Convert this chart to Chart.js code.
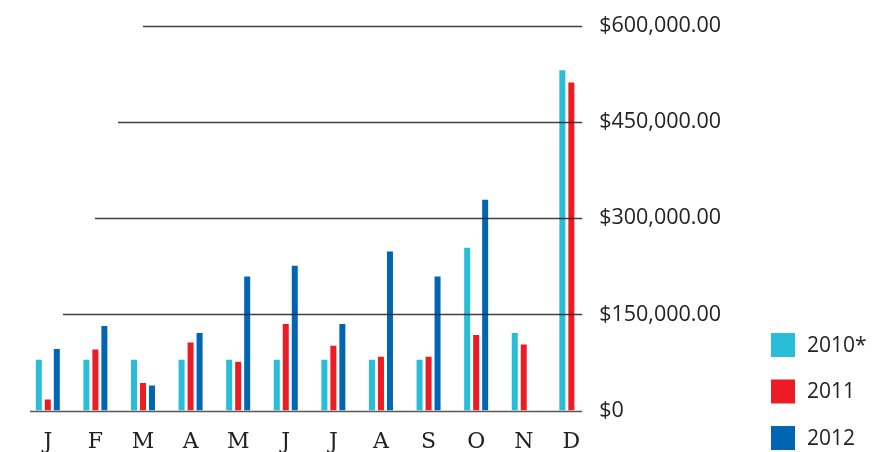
<title>Monthly totals 2010-2012</title>
<script src=https://cdn.jsdelivr.net/npm/chart.js@4/dist/chart.umd.min.js></script>
<style>body{margin:0;background:#fff}</style>
<canvas id="myChart" width="886" height="452"></canvas>
<script>
var months = ['J','F','M','A','M','J','J','A','S','O','N','D'];
var series = ['2010*','2011','2012'];
var v2010 = [79000,79000,79000,79000,79000,79000,79000,79000,79000,254000,121000,531000];
var v2011 = [17000,95000,43000,106000,76000,135000,101000,84000,84000,118000,103000,512000];
var v2012 = [96000,132000,39000,121000,209000,226000,135000,248000,209000,329000,null,null];
var yTicks = [0,150000,300000,450000,600000];
var yTickLabels = ['$0','$150,000.00','$300,000.00','$450,000.00','$600,000.00'];
var colors = ['#28bdd9','#ed1c24','#0066b3'];

// staggered rules drawn over the bars
var rules = {
  id:'rules',
  afterDatasetsDraw:function(chart){
    var c = chart.ctx, y = chart.scales.y, a = chart.chartArea;
    var starts = [30,63,95,118,143];
    c.save();
    for(var i=0;i<yTicks.length;i++){
      var py = Math.round(y.getPixelForValue(yTicks[i]))+0.5;
      c.strokeStyle = i==0 ? 'rgba(60,60,60,0.85)' : 'rgba(30,30,30,0.85)';
      c.lineWidth = 1.4;
      c.beginPath(); c.moveTo(starts[i],py); c.lineTo(a.right-13,py); c.stroke();
    }
    c.restore();
  }
};

var legendBoxes = {
  id:'legendBoxes',
  afterDraw:function(chart){
    var c = chart.ctx, ds = chart.data.datasets;
    var x = chart.width-115, step = 46.5;
    c.save();
    c.font = '21px "Open Sans"';
    c.textBaseline = 'middle';
    for(var i=0;i<ds.length;i++){
      var top = chart.height-26-(ds.length-1-i)*step;
      c.fillStyle = ds[i].backgroundColor;
      c.fillRect(x,top,24,24);
      c.fillStyle = '#222';
      c.fillText(ds[i].label,x+36,top+13);
    }
    c.restore();
  }
};

var ctx = document.getElementById('myChart');
new Chart(ctx,{
  type:'bar',
  data:{labels:months,
    datasets:[
      {label:series[0],data:v2010,backgroundColor:colors[0]},
      {label:series[1],data:v2011,backgroundColor:colors[1]},
      {label:series[2],data:v2012,backgroundColor:colors[2]}
    ]},
  options:{
    responsive:false,
    animation:false,
    categoryPercentage:0.567,
    barPercentage:0.667,
    layout:{padding:{left:24,top:26,right:161,bottom:0}},
    plugins:{legend:{display:false},tooltip:{enabled:false}},
    scales:{
      x:{grid:{display:false,drawTicks:false},border:{display:false},
        afterFit:function(s){s.height=41.5;},
        ticks:{padding:21,color:'#222',font:{family:'"DejaVu Serif"',size:22,lineHeight:1}}},
      y:{position:'right',min:0,max:600000,
        grid:{display:false,drawTicks:false},border:{display:false},
        afterBuildTicks:function(s){s.ticks=yTicks.map(function(v){return {value:v};});},
        ticks:{padding:4,color:'#222',font:{family:'"Open Sans"',size:21.5},
          callback:function(v,i){return yTickLabels[i];}}}
    }
  },
  plugins:[rules,legendBoxes]
});
</script>
